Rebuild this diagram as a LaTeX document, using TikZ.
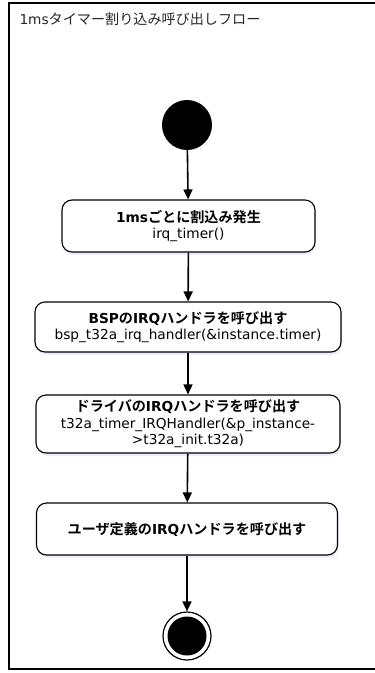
\documentclass[tikz,border=0pt]{standalone}
\usepackage{fontspec}
\setmainfont{DejaVu Sans}
\newfontfamily\jp{Noto Sans CJK JP}[BoldFont={Noto Sans CJK JP Bold},Scale=1.03]
\usetikzlibrary{arrows.meta,shadows}
\tikzset{
  act/.style={draw, line width=1.1pt, rounded corners=10pt, fill=white, align=center,
    inner sep=0pt, font=\fontsize{13.7}{16.5}\selectfont,
    drop shadow={shadow xshift=1pt, shadow yshift=-2.5pt, fill=blue!25!white, opacity=0.35}},
  flow/.style={line width=1.6pt, -{Triangle[length=10pt,width=9pt]}},
  startdot/.style={circle, fill=black, minimum size=50pt, inner sep=0pt},
  enddot/.style={circle, draw, line width=1.2pt, fill=white, minimum size=48pt, inner sep=0pt,
    path picture={\fill[black] (path picture bounding box.center) circle (19.5pt);}},
}
\begin{document}
\begin{tikzpicture}[x=1pt,y=-1pt]
\useasboundingbox (0,0) rectangle (375,673);
\begin{scope}
\clip (0,0) rectangle (375,673);
\draw[line width=2pt] (9,3) rectangle (395,669);
\end{scope}
\node[anchor=base west, font=\fontsize{13.7}{16}\selectfont, text=black!85] (title) at (16,24) {1ms{\jp タイマー割り込み呼び出しフロー}};

\node[startdot] (start) at (187,125) {};
\node[act, minimum width=253pt, minimum height=52pt] (b1) at (188.5,226)
  {\textbf{1ms{\jp ごとに割込み発生}}\\irq\_timer()};
\node[act, minimum width=306pt, minimum height=50pt] (b2) at (188,327)
  {\textbf{BSP{\jp の}IRQ{\jp ハンドラを呼び出す}}\\bsp\_t32a\_irq\_handler(\&instance.timer)};
\node[act, minimum width=304pt, minimum height=58pt] (b3) at (188,424)
  {\textbf{{\jp ドライバの}IRQ{\jp ハンドラを呼び出す}}\\t32a\_timer\_IRQHandler(\&p\_instance-\\>t32a\_init.t32a)};
\node[act, minimum width=301pt, minimum height=52pt] (b4) at (187,529)
  {\textbf{{\jp ユーザ定義の}IRQ{\jp ハンドラを呼び出す}}};
\node[enddot] (end) at (187,636) {};

\draw[flow] (start) -- (b1);
\draw[flow] (b1) -- (b2);
\draw[flow] (b2) -- (b3);
\draw[flow] (b3) -- (b4);
\draw[flow] (b4) -- (end);
\end{tikzpicture}
\end{document}
